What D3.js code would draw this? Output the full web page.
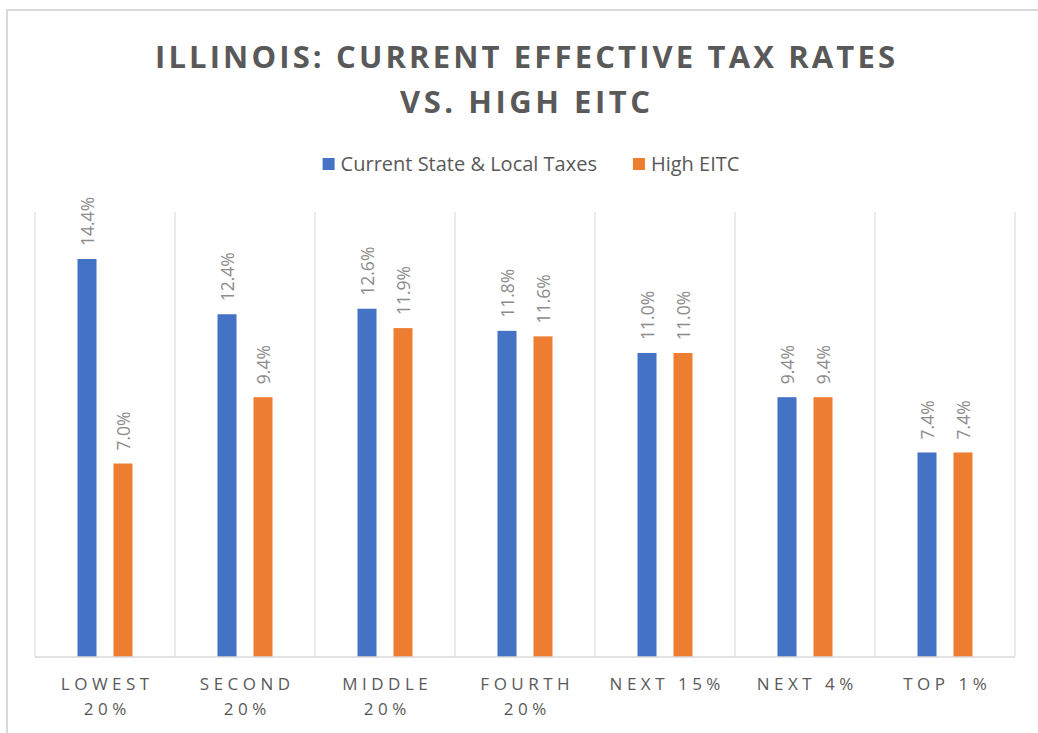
<!DOCTYPE html>
<html>
<head>
<meta charset="utf-8">
<script src="https://cdn.jsdelivr.net/npm/d3@7"></script>
<style>
  body { margin: 0; background: #fff; }
  svg { display: block; font-family: "Open Sans", sans-serif; }
</style>
</head>
<body>
<svg id="chart" width="1038" height="733"></svg>
<script>
const categories = ['LOWEST 20%', 'SECOND 20%', 'MIDDLE 20%', 'FOURTH 20%', 'NEXT 15%', 'NEXT 4%', 'TOP 1%'];
const seriesNames = ['Current State & Local Taxes', 'High EITC'];
const currentTaxes = [14.4, 12.4, 12.6, 11.8, 11.0, 9.4, 7.4];
const highEitc = [7.0, 9.4, 11.9, 11.6, 11.0, 9.4, 7.4];
const titleLines = ['ILLINOIS: CURRENT EFFECTIVE TAX RATES', 'VS. HIGH EITC'];

const colors = ['#4472c4', '#ed7d31'];
const width = 1038;
const height = 733;
const plot = { left: 35, right: 1015, top: 212, bottom: 657 };

const svg = d3.select('#chart');

// outer frame (only top and left edges are visible in the picture)
svg.append('path')
  .attr('d', `M7,${height}V10H${width}`)
  .attr('fill', 'none')
  .attr('stroke', '#d9d9d9')
  .attr('stroke-width', 2);

// title
const titleWidths = [740, 250];
svg.append('g')
  .selectAll('text')
  .data(titleLines)
  .join('text')
  .attr('x', 525)
  .attr('y', (d, i) => 68 + i * 45)
  .attr('text-anchor', 'middle')
  .attr('font-size', 31)
  .attr('font-weight', 700)
  .attr('fill', '#595959')
  .attr('textLength', (d, i) => titleWidths[i])
  .attr('lengthAdjust', 'spacing')
  .text(d => d);

// legend
const legend = svg.append('g').attr('font-size', 20).attr('fill', '#595959');
let lx = 0;
seriesNames.forEach((name, i) => {
  const g = legend.append('g').attr('transform', `translate(${lx},0)`);
  g.append('rect').attr('x', 0).attr('y', -6).attr('width', 12).attr('height', 12).attr('fill', colors[i]);
  const t = g.append('text').attr('x', 18).attr('y', 0).attr('dy', '0.35em').text(name);
  lx += 18 + t.node().getComputedTextLength() + 36;
});
const legendWidth = lx - 36;
legend.attr('transform', `translate(${531 - legendWidth / 2},164)`);

// scales
const x0 = d3.scaleBand().domain(categories).range([plot.left, plot.right]).padding(0);
const bw = x0.bandwidth();
const x1 = d3.scaleBand().domain(seriesNames)
  .range([bw / 2 - 27.5, bw / 2 + 27.5])
  .paddingInner(0.472);
const y = d3.scaleLinear().domain([0, 16.1]).range([plot.bottom, plot.top]);

// vertical category gridlines
const bounds = categories.map(c => x0(c)).concat([plot.right]);
svg.append('g')
  .selectAll('line')
  .data(bounds)
  .join('line')
  .attr('x1', d => d).attr('x2', d => d)
  .attr('y1', y.range()[1]).attr('y2', y(0))
  .attr('stroke', '#d9d9d9')
  .attr('stroke-width', 1);

// bars
const rows = categories.map((c, i) => ({
  cat: c,
  vals: [currentTaxes[i], highEitc[i]].map((v, k) => ({ series: seriesNames[k], v, k }))
}));

const groups = svg.append('g')
  .selectAll('g')
  .data(rows)
  .join('g')
  .attr('transform', d => `translate(${x0(d.cat)},0)`);

groups.selectAll('rect')
  .data(d => d.vals)
  .join('rect')
  .attr('x', d => x1(d.series))
  .attr('y', d => y(d.v))
  .attr('width', x1.bandwidth())
  .attr('height', d => y(0) - y(d.v))
  .attr('fill', d => colors[d.k]);

groups.selectAll('text')
  .data(d => d.vals)
  .join('text')
  .attr('transform', d => `translate(${x1(d.series) + x1.bandwidth() / 2},${y(d.v) - 13}) rotate(-90)`)
  .attr('dominant-baseline', 'central')
  .attr('font-size', 17.5)
  .attr('fill', '#8c8c8c')
  .text(d => d.v.toFixed(1) + '%');

// baseline
svg.append('line')
  .attr('x1', plot.left).attr('x2', plot.right)
  .attr('y1', y(0)).attr('y2', y(0))
  .attr('stroke', '#d9d9d9')
  .attr('stroke-width', 1.5);

// category labels, wrapped when too wide for the band
const spacing = 4.5;
const catLabels = svg.append('g')
  .selectAll('text')
  .data(categories)
  .join('text')
  .attr('x', d => x0(d) + bw / 2 + spacing / 2)
  .attr('y', 690)
  .attr('text-anchor', 'middle')
  .attr('font-size', 17)
  .attr('letter-spacing', spacing)
  .attr('fill', '#595959')
  .text(d => d);

catLabels.each(function (d) {
  const t = d3.select(this);
  if (this.getComputedTextLength() > 132) {
    const words = d.split(' ');
    const last = words.pop();
    t.text(null);
    t.append('tspan').attr('x', x0(d) + bw / 2 + spacing / 2).text(words.join(' '));
    t.append('tspan').attr('x', x0(d) + bw / 2 + spacing / 2).attr('dy', 25).text(last);
  }
});
</script>
</body>
</html>
